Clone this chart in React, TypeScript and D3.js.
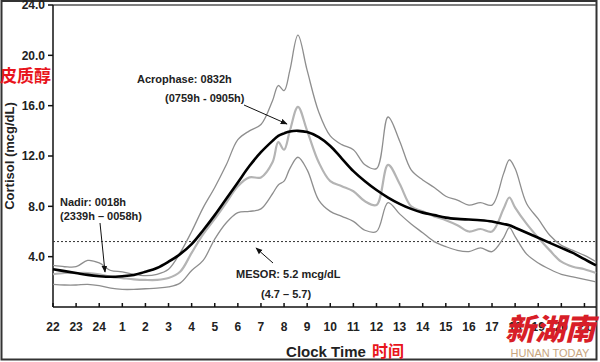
import React from 'react';
import * as d3 from 'd3';

// hours since 22:00
const hours = [0, 0.5, 1, 1.5, 2, 2.5, 3, 3.5, 4, 4.5, 5, 5.5, 6, 6.5, 7, 7.5, 8, 8.5, 9, 9.5, 9.75, 10, 10.25, 10.6, 11, 11.5, 12, 12.5, 13, 13.5, 14, 14.5, 15, 15.5, 16, 16.5, 17, 17.5, 18, 18.5, 19, 19.5, 19.75, 20, 20.5, 21, 21.5, 22, 22.5, 23, 23.5];

const upperBand = [3.3, 3.2, 3.2, 3.7, 3.5, 2.9, 2.8, 2.6, 2.5, 2.6, 3.0, 4.3, 6.0, 7.9, 9.5, 11.3, 13.3, 14.0, 14.5, 16.4, 17.6, 17.2, 18.8, 21.6, 18.8, 15.5, 13.6, 12.9, 12.5, 11.3, 11.0, 15.1, 13.2, 10.9, 10.1, 9.5, 8.8, 8.5, 8.1, 8.3, 8.1, 10.6, 11.7, 11.0, 8.2, 7.0, 5.7, 4.9, 4.5, 4.1, 3.6];
const meanCurve = [2.6, 2.7, 2.7, 2.7, 2.6, 2.4, 2.3, 2.2, 2.15, 2.15, 2.3, 2.8, 4.3, 5.8, 7.0, 8.3, 9.6, 10.3, 10.3, 11.5, 13.1, 12.5, 14.0, 15.9, 14.0, 11.5, 10.0, 9.6, 9.2, 8.4, 8.1, 11.3, 9.8, 8.0, 7.6, 7.2, 6.9, 6.5, 6.0, 6.2, 6.0, 7.8, 8.7, 7.9, 6.6, 5.5, 4.5, 3.6, 3.2, 3.0, 2.7];
const lowerBand = [1.8, 1.75, 1.75, 1.8, 1.7, 1.5, 1.4, 1.4, 1.45, 1.5, 1.6, 1.9, 2.9, 3.7, 5.4, 6.7, 7.5, 7.6, 7.8, 9.0, 9.7, 10.0, 11.0, 11.9, 10.9, 8.5, 7.6, 7.2, 6.8, 6.1, 6.0, 8.3, 7.4, 6.6, 5.9, 5.2, 4.8, 4.5, 4.4, 4.7, 4.4, 5.5, 6.3, 5.6, 4.2, 3.5, 3.0, 2.6, 2.4, 2.2, 2.0];
const cosinorFit = [3.0, 2.85, 2.7, 2.55, 2.45, 2.4, 2.45, 2.55, 2.8, 3.1, 3.6, 4.2, 5.0, 6.1, 7.3, 8.6, 9.9, 11.2, 12.3, 13.2, 13.6, 13.8, 13.95, 14.0, 13.9, 13.5, 12.8, 11.8, 10.8, 10.0, 9.3, 8.7, 8.2, 7.8, 7.5, 7.3, 7.1, 7.0, 6.95, 6.9, 6.8, 6.6, 6.5, 6.3, 5.9, 5.5, 5.1, 4.7, 4.3, 3.8, 3.3];

const clockLabels = ['22', '23', '24', '1', '2', '3', '4', '5', '6', '7', '8', '9', '10', '11', '12', '13', '14', '15', '16', '17', '18', '19', '20', '21'];
const yTicks = [4, 8, 12, 16, 20, 24];
const mesor = 5.2;

const W = 600;
const H = 362;
const left = 53;
const right = 596;
const top = 5;
const bottom = 307;

export default function App() {
  const x = d3.scaleLinear().domain([0, 23.5]).range([left, right]);
  const y = d3.scaleLinear().domain([0, 24]).range([bottom, top]);

  const line = (vals: number[]) =>
    d3
      .line<number>()
      .x((_, i) => x(hours[i]))
      .y((d) => y(d))
      .curve(d3.curveCatmullRom.alpha(0.5))(vals) || '';

  const font = 'Arial, "Liberation Sans", sans-serif';
  const cjk = '"Noto Sans CJK SC", sans-serif';

  return (
    <div style={{ position: 'fixed', left: 0, top: 0 }}>
      <svg width={W} height={H} style={{ display: 'block', background: '#fff' }}>
        <defs>
          <marker id="arr" viewBox="0 0 10 10" refX="9" refY="5" markerWidth="7" markerHeight="7" orient="auto">
            <path d="M0,1 L10,5 L0,9 z" fill="#111" />
          </marker>
        </defs>
        {/* outer frame */}
        <rect x={1.5} y={1} width={595} height={358.5} fill="none" stroke="#333" strokeWidth={2} />
        <line x1={left} x2={right} y1={top} y2={top} stroke="#555" strokeWidth={1.5} />

        {/* y axis */}
        <line x1={left} x2={left} y1={top} y2={bottom} stroke="#111" strokeWidth={1.5} />
        {yTicks.map((t) => (
          <g key={t}>
            <line x1={left - 5} x2={left} y1={y(t)} y2={y(t)} stroke="#111" strokeWidth={1.5} />
            <text x={left - 8} y={y(t)} dy="0.35em" textAnchor="end" fontFamily={font} fontWeight="bold" fontSize={12} fill="#222">
              {t.toFixed(1)}
            </text>
          </g>
        ))}

        {/* x axis */}
        <line x1={left} x2={right} y1={bottom} y2={bottom} stroke="#111" strokeWidth={1.5} />
        {clockLabels.map((lab, i) => (
          <g key={lab}>
            <line x1={x(i)} x2={x(i)} y1={bottom - 4} y2={bottom} stroke="#111" strokeWidth={1.5} />
            <text x={x(i)} y={331} textAnchor="middle" fontFamily={font} fontWeight="bold" fontSize={12} fill="#222">
              {lab}
            </text>
          </g>
        ))}

        {/* MESOR line */}
        <line x1={left} x2={right} y1={y(mesor)} y2={y(mesor)} stroke="#333" strokeWidth={1} strokeDasharray="2,2" />

        {/* curves */}
        <path d={line(upperBand)} fill="none" stroke="#8e8e8e" strokeWidth={1.3} />
        <path d={line(lowerBand)} fill="none" stroke="#8e8e8e" strokeWidth={1.3} />
        <path d={line(meanCurve)} fill="none" stroke="#b4b4b4" strokeWidth={2.2} />
        <path d={line(cosinorFit)} fill="none" stroke="#000" strokeWidth={2.6} />

        {/* annotations */}
        <g fontFamily={font} fontWeight="bold" fontSize={11} fill="#222">
          <text x={137} y={83}>Acrophase: 0832h</text>
          <text x={165} y={102}>(0759h - 0905h)</text>
          <text x={60} y={206}>Nadir: 0018h</text>
          <text x={60} y={220}>(2339h – 0058h)</text>
          <text x={236} y={278}>MESOR: 5.2 mcg/dL</text>
          <text x={261} y={298}>(4.7 –  5.7)</text>
        </g>
        <line x1={244} y1={105} x2={287} y2={124} stroke="#111" strokeWidth={1} markerEnd="url(#arr)" />
        <line x1={100} y1={223} x2={105} y2={272} stroke="#111" strokeWidth={1} markerEnd="url(#arr)" />
        <line x1={273} y1={263} x2={256} y2={248} stroke="#111" strokeWidth={1} markerEnd="url(#arr)" />

        {/* axis titles */}
        <text transform="translate(14,156) rotate(-90)" textAnchor="middle" fontFamily={font} fontWeight="bold" fontSize={13} fill="#222">
          Cortisol (mcg/dL)
        </text>
        <text x={0} y={82} fontFamily={cjk} fontWeight="bold" fontSize={17} fill="#e8141c">皮质醇</text>
        <text x={326} y={357} textAnchor="middle" fontFamily={font} fontWeight="bold" fontSize={15} fill="#222">
          Clock Time
        </text>
        <text x={372} y={357} fontFamily={cjk} fontWeight="bold" fontSize={16} fill="#e8141c">时间</text>

        {/* watermark */}
        <text x={550} y={340} textAnchor="middle" fontFamily={cjk} fontWeight="900" fontSize={30} fill="#d81e28" fontStyle="italic">
          新湖南
        </text>
        <text x={550} y={357} textAnchor="middle" fontFamily={font} fontSize={11} fill="#c8a57e">
          HUNAN TODAY
        </text>
      </svg>
    </div>
  );
}
